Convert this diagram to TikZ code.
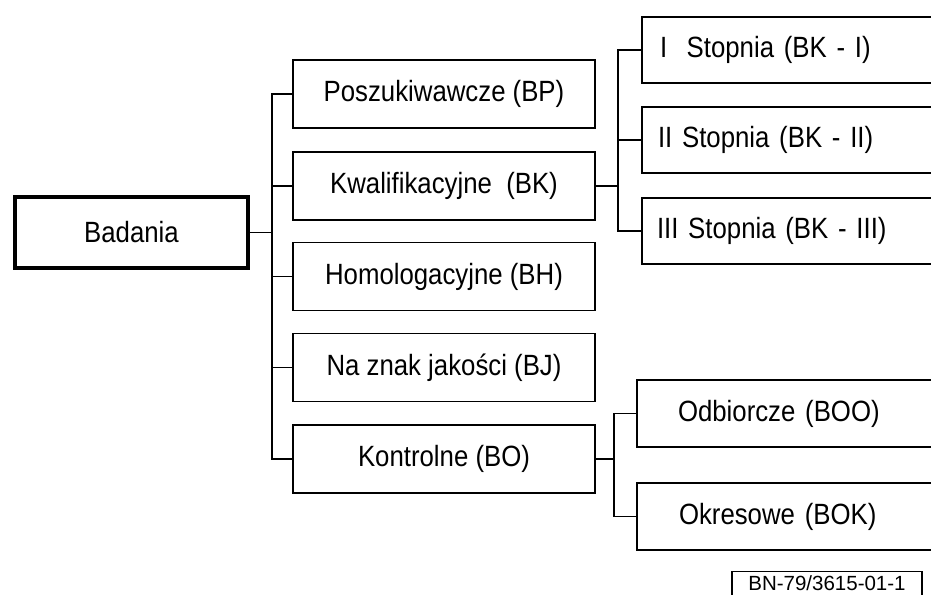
\documentclass[tikz,border=0pt]{standalone}
\usepackage{fontspec}
\setmainfont{Liberation Sans}[FakeStretch=0.88]
\newfontfamily\nrfont{Liberation Sans}
\begin{document}
\begin{tikzpicture}[x=0.03cm,y=-0.03cm,
  txt/.style={font=\fontsize{25}{29}\selectfont},
  mbox/.style={draw, line width=1.5pt, minimum width=9.06cm, minimum height=2.04cm, inner sep=0pt, txt},
  rbox/.style={draw, line width=1.5pt, minimum height=2.0cm, inner ysep=0pt, align=left, txt},
  conn/.style={line width=1.2pt}]
\useasboundingbox (0,0) rectangle (931,595);
\clip (0,0) rectangle (931,595);
% root
\node[draw, line width=3.4pt, minimum width=6.99cm, minimum height=2.13cm, inner sep=0pt, txt] (bad) at (131.5,232.5) {Badania};
% middle column
\node[mbox] (bp) at (444,94) {Poszukiwawcze (BP)};
\node[mbox] (bk) at (444,186) {Kwalifikacyjne\ \ (BK)};
\node[mbox] (bh) at (444,276.5) {Homologacyjne (BH)};
\node[mbox] (bj) at (444,367.5) {Na znak jakości (BJ)};
\node[mbox] (bo) at (444,459) {Kontrolne (BO)};
% right column (open to the right edge)
\node[rbox, inner xsep=0.54cm, text width=8.16cm] (k1) at (796,50) {I\ \ Stopnia (BK - I)};
\node[rbox, inner xsep=0.48cm, text width=8.28cm] (k2) at (796,140) {II Stopnia (BK - II)};
\node[rbox, inner xsep=0.45cm, text width=8.34cm] (k3) at (796,231) {III Stopnia (BK - III)};
\node[rbox, inner xsep=1.23cm, text width=6.93cm] (o1) at (793.5,413.5) {Odbiorcze (BOO)};
\node[rbox, inner xsep=1.26cm, text width=6.87cm] (o2) at (793.5,516.5) {Okresowe (BOK)};
% connectors
\foreach \c in {bp,bk,bh,bj,bo}
  \draw[conn] (bad.east) -- ++(22,0) |- (\c.west);
\foreach \c in {k1,k2,k3}
  \draw[conn] (bk.east) -- ++(22,0) |- (\c.west);
\foreach \c in {o1,o2}
  \draw[conn] (bo.east) -- ++(18,0) |- (\c.west);
% drawing number
\node[draw, line width=1.2pt, minimum width=5.7cm, minimum height=0.72cm, inner sep=0pt, font=\nrfont\fontsize{17.5}{19}\selectfont] (nr) at (827,583.5) {BN-79/3615-01-1};
\end{tikzpicture}
\end{document}
